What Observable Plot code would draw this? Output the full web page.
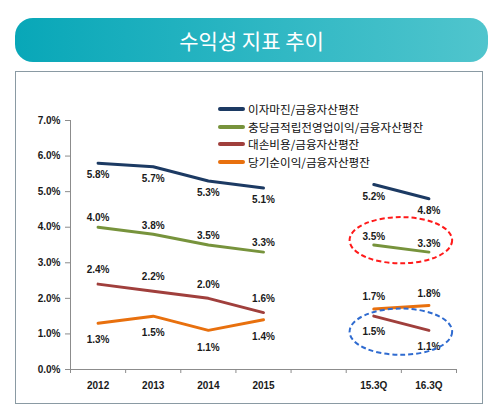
<!DOCTYPE html>
<html><head><meta charset="utf-8">
<script src="https://cdn.jsdelivr.net/npm/d3@7"></script>
<script src="https://cdn.jsdelivr.net/npm/@observablehq/plot@0.6"></script>
<style>
html,body{margin:0;padding:0;background:#fff;}
#wrap{position:relative;width:500px;height:416px;overflow:hidden;font-family:"Noto Sans CJK KR","Noto Sans",sans-serif;}
#banner{position:absolute;left:15px;top:18px;width:473px;height:44px;border-radius:18px;
 background:linear-gradient(to right,#08a7b8,#50c5cd);color:#fff;font-size:21px;line-height:44px;text-align:center;}
#frame{position:absolute;left:15px;top:71px;width:468px;height:333px;border:1.5px solid #8a9aa3;box-sizing:border-box;}
#chart{position:absolute;left:0;top:0;}
#legend{position:absolute;left:218px;top:100px;font-size:11.6px;color:#0d0d0d;}
.li{position:absolute;left:0;height:17.7px;white-space:nowrap;display:flex;align-items:center;}
.sw{display:inline-block;width:27px;height:4px;border-radius:2px;margin-right:3px;}
</style></head>
<body>
<div id="wrap">
  <div id="banner"></div>
  <div id="frame"></div>
  <div id="chart"></div>
  <div id="legend"></div>
</div>
<script>
const title = "수익성 지표 추이";
const categories = ["2012", "2013", "2014", "2015", "", "15.3Q", "16.3Q"];
const seriesNames = ["이자마진/금융자산평잔", "충당금적립전영업이익/금융자산평잔", "대손비용/금융자산평잔", "당기순이익/금융자산평잔"];
const interestMargin = [5.8, 5.7, 5.3, 5.1, null, 5.2, 4.8];
const preProvisionProfit = [4.0, 3.8, 3.5, 3.3, null, 3.5, 3.3];
const creditCost = [2.4, 2.2, 2.0, 1.6, null, 1.5, 1.1];
const netIncome = [1.3, 1.5, 1.1, 1.4, null, 1.7, 1.8];
const yTicks = [0, 1, 2, 3, 4, 5, 6, 7];
const colors = ["#1c3a63", "#77933c", "#a03f3c", "#e8700e"];

const allSeries = [interestMargin, preProvisionProfit, creditCost, netIncome];
const rows = [];
allSeries.forEach((vals, s) => vals.forEach((v, i) => {
  if (v != null) rows.push({series: seriesNames[s], s, i, v, seg: i < 4 ? "annual" : "quarter"});
}));

// label offsets (px) per series: annual / quarterly sections
const dyAnnual = [12, -9, -14, 17];
const dyQuarter = [12, -8, 16, -12];

// highlight ellipses (annotation), centred between the two quarter columns
const highlights = [
  {cx: 5.5, cy: 3.62, rx: 0.93, ry: 0.65, color: "#ff1a1a"},
  {cx: 5.5, cy: 1.05, rx: 0.93, ry: 0.65, color: "#2f6bd0"}
];

document.getElementById("banner").textContent = title;

const labelMarks = [];
seriesNames.forEach((name, s) => {
  ["annual", "quarter"].forEach(seg => {
    labelMarks.push(Plot.text(rows.filter(d => d.s === s && d.seg === seg), {
      x: "i", y: "v", text: d => d.v.toFixed(1) + "%",
      dy: seg === "annual" ? dyAnnual[s] : dyQuarter[s],
      fontSize: 10, fontWeight: "bold", fill: "#1a1a1a"
    }));
  });
});

const ellipseMark = (index, scales) => {
  const g = d3.create("svg:g");
  for (const e of highlights) {
    const cx = scales.x(e.cx), cy = scales.y(e.cy);
    g.append("ellipse")
      .attr("cx", cx).attr("cy", cy)
      .attr("rx", Math.abs(scales.x(e.cx + e.rx) - cx))
      .attr("ry", Math.abs(scales.y(e.cy + e.ry) - cy))
      .attr("fill", "none").attr("stroke", e.color)
      .attr("stroke-width", 2).attr("stroke-dasharray", "5,3");
  }
  return g.node();
};

const plot = Plot.plot({
  width: 500, height: 416,
  marginLeft: 70, marginRight: 44, marginTop: 120, marginBottom: 47,
  style: {fontFamily: "'Liberation Sans', Arial, sans-serif", background: "transparent", overflow: "visible"},
  x: {type: "linear", domain: [-0.5, categories.length - 0.5]},
  y: {domain: [0, 7]},
  color: {domain: seriesNames, range: colors},
  marks: [
    Plot.ruleX([-0.5], {y1: 0, y2: 7, stroke: "#8c8c8c"}),
    Plot.ruleY([0], {stroke: "#8c8c8c"}),
    Plot.axisY({ticks: yTicks, tickFormat: d => d.toFixed(1) + "%", tickSize: 5, tickPadding: 5,
      fontSize: 10, fontWeight: "bold", color: "#1a1a1a", stroke: "#8c8c8c", label: null}),
    Plot.axisX({ticks: d3.range(-0.5, categories.length, 1), tickFormat: () => "", tickSize: 4,
      stroke: "#8c8c8c", label: null}),
    Plot.axisX({ticks: d3.range(0, categories.length), tickFormat: i => categories[i], tickSize: 0, tickPadding: 12,
      fontSize: 10, fontWeight: "bold", color: "#1a1a1a", label: null}),
    Plot.line(rows, {x: "i", y: "v", z: d => d.series + d.seg, stroke: "series", strokeWidth: 3}),
    ...labelMarks,
    ellipseMark
  ]
});
document.getElementById("chart").appendChild(plot);

const legend = document.getElementById("legend");
seriesNames.forEach((name, s) => {
  const item = document.createElement("div");
  item.className = "li";
  item.style.top = (s * 17.7) + "px";
  item.innerHTML = `<span class="sw" style="background:${colors[s]}"></span><span>${name}</span>`;
  legend.appendChild(item);
});
</script>
</body></html>
